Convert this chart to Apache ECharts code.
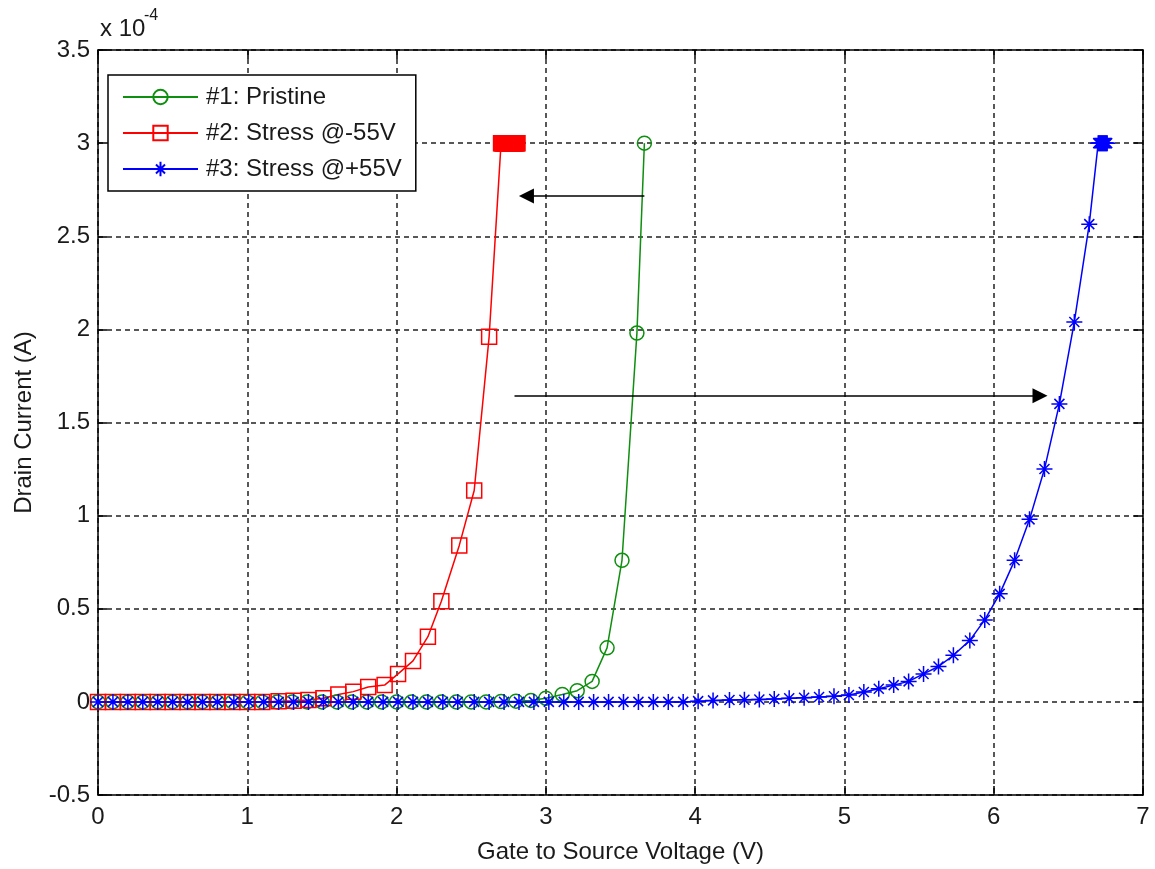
<!DOCTYPE html>
<html>
<head>
<meta charset="utf-8">
<script src="https://cdn.jsdelivr.net/npm/echarts@6/dist/echarts.min.js"></script>
<style>
  html, body { margin: 0; padding: 0; background: #ffffff; }
  #chart { width: 1155px; height: 869px; }
</style>
</head>
<body>
<div id="chart"></div>
<script>
// Transfer characteristics: drain current (in units of 1e-4 A) vs gate-to-source voltage (V)

// #1: Pristine
const pristineVgs = [0.0, 0.1, 0.2, 0.3, 0.4, 0.5, 0.6, 0.7, 0.8, 0.9, 1.0, 1.1, 1.2, 1.3, 1.4, 1.5,
  1.6, 1.7, 1.8, 1.9, 2.0, 2.1, 2.2, 2.3, 2.4, 2.5, 2.6, 2.7, 2.8, 2.9, 3.0,
  3.11, 3.21, 3.31, 3.41, 3.51, 3.61, 3.66];
const pristineId = [0, 0, 0, 0, 0, 0, 0, 0, 0, 0, 0, 0, 0, 0, 0, 0,
  0, 0, 0, 0, 0, 0, 0, 0, 0, 0, 0, 0.002, 0.004, 0.008, 0.02,
  0.04, 0.06, 0.11, 0.29, 0.76, 1.98, 3.0];

// #2: Stress @-55V (sweep ends in a dense run of points held at the 3e-4 A compliance)
const negStressVgs = [0.0, 0.1, 0.2, 0.3, 0.4, 0.5, 0.6, 0.7, 0.8, 0.9, 1.0, 1.1,
  1.21, 1.31, 1.41, 1.51, 1.61, 1.71, 1.81, 1.92, 2.01, 2.11, 2.21, 2.30, 2.42, 2.52, 2.62,
  2.700, 2.705, 2.710, 2.715, 2.720, 2.725, 2.730, 2.735, 2.740, 2.745, 2.750, 2.755,
  2.760, 2.765, 2.770, 2.775, 2.780, 2.785, 2.790, 2.795, 2.800, 2.805, 2.810];
const negStressId = [0, 0, 0, 0, 0, 0, 0, 0, 0, 0, 0, 0,
  0.004, 0.006, 0.01, 0.02, 0.04, 0.055, 0.08, 0.09, 0.15, 0.22, 0.35, 0.54, 0.84, 1.135, 1.96,
  3.0, 3.0, 3.0, 3.0, 3.0, 3.0, 3.0, 3.0, 3.0, 3.0, 3.0, 3.0,
  3.0, 3.0, 3.0, 3.0, 3.0, 3.0, 3.0, 3.0, 3.0, 3.0, 3.0];

// #3: Stress @+55V
const posStressVgs = [0.0, 0.10, 0.20, 0.30, 0.40, 0.50, 0.60, 0.70, 0.80, 0.91,
  1.01, 1.11, 1.21, 1.31, 1.41, 1.51, 1.61, 1.71, 1.81, 1.91,
  2.01, 2.11, 2.21, 2.31, 2.41, 2.52, 2.62, 2.72, 2.82, 2.92,
  3.02, 3.12, 3.22, 3.32, 3.42, 3.52, 3.62, 3.72, 3.82, 3.92,
  4.02, 4.12, 4.23, 4.33, 4.43, 4.53, 4.63, 4.73, 4.83, 4.93,
  5.03, 5.13, 5.23, 5.33, 5.43, 5.53, 5.63, 5.73, 5.84, 5.94,
  6.04, 6.14, 6.24, 6.34, 6.44, 6.54, 6.64,
  6.700, 6.705, 6.710, 6.715, 6.720, 6.725, 6.730, 6.735, 6.740, 6.745, 6.750, 6.755, 6.760];
const posStressId = [0, 0, 0, 0, 0, 0, 0, 0, 0, 0,
  0, 0, 0, 0, 0, 0, 0, 0, 0, 0,
  0, 0, 0, 0, 0, 0, 0, 0, 0, 0,
  0, 0, 0, 0, 0, 0, 0, 0, 0, 0,
  0.004, 0.008, 0.01, 0.011, 0.013, 0.015, 0.019, 0.022, 0.026, 0.03,
  0.037, 0.053, 0.07, 0.09, 0.11, 0.15, 0.19, 0.25, 0.33, 0.44,
  0.58, 0.76, 0.98, 1.25, 1.60, 2.04, 2.565,
  3.0, 3.0, 3.0, 3.0, 3.0, 3.0, 3.0, 3.0, 3.0, 3.0, 3.0, 3.0, 3.0];

// Annotation arrows: [x, y] of the tail and of the arrowhead centre
const shiftLeftArrow = [[3.66, 2.716], [2.87, 2.716]];
const shiftRightArrow = [[2.79, 1.643], [6.31, 1.643]];

// Axis ticks
const xTicks = { min: 0, max: 7, interval: 1 };
const yTicks = { min: -0.5, max: 3.5, interval: 0.5 };

const FONT = '"Liberation Sans", Arial, Helvetica, sans-serif';
const TEXT_COLOR = '#1a1a1a';
const GREEN = '#0f8f0f';
const RED = '#ff0000';
const BLUE = '#0000ff';
const ASTERISK = 'path://M0,-8L0,8M-8,0L8,0M-5,-5L5,5M-5,5L5,-5';

const zip = (xs, ys) => xs.map((x, i) => [x, ys[i]]);

const boxAxisLine = { show: true, onZero: false, lineStyle: { color: '#000', width: 1.5 } };
const insideTick = { show: true, inside: true, length: 9, lineStyle: { color: '#000', width: 1.5 } };
const dashedGrid = { show: true, lineStyle: { color: '#222', width: 1.5, type: [5, 4] } };

function curve(name, xs, ys, color, symbol, size) {
  return {
    name: name,
    type: 'line',
    data: zip(xs, ys),
    symbol: symbol,
    symbolSize: size,
    showAllSymbol: true,
    clip: false,
    lineStyle: { color: color, width: 1.5 },
    itemStyle: { color: 'rgba(0,0,0,0)', borderColor: color, borderWidth: 1.5 },
    emphasis: { disabled: true },
    animation: false
  };
}

function arrow(points) {
  return {
    type: 'line',
    data: [],
    silent: true,
    animation: false,
    markLine: {
      silent: true,
      animation: false,
      symbol: ['none', 'triangle'],
      symbolSize: 15,
      label: { show: false },
      lineStyle: { color: '#000', width: 1.5, type: 'solid' },
      emphasis: { disabled: true },
      data: [[{ coord: points[0] }, { coord: points[1] }]]
    }
  };
}

const chart = echarts.init(document.getElementById('chart'), null, { renderer: 'canvas' });

chart.setOption({
  backgroundColor: '#ffffff',
  animation: false,
  title: [
    { text: 'x 10', left: 100, top: 17, padding: 0,
      textStyle: { fontFamily: FONT, fontSize: 24, fontWeight: 'normal', color: TEXT_COLOR } },
    { text: '-4', left: 144, top: 8, padding: 0,
      textStyle: { fontFamily: FONT, fontSize: 16, fontWeight: 'normal', color: TEXT_COLOR } }
  ],
  grid: { left: 98, right: 12, top: 50, bottom: 72, containLabel: false },
  xAxis: [
    {
      type: 'value', position: 'bottom', min: xTicks.min, max: xTicks.max, interval: xTicks.interval,
      axisLine: boxAxisLine, axisTick: insideTick, splitLine: dashedGrid,
      axisLabel: { fontFamily: FONT, fontSize: 24, color: TEXT_COLOR, margin: 10 },
      name: 'Gate to Source Voltage (V)', nameLocation: 'middle', nameGap: 45,
      nameTextStyle: { fontFamily: FONT, fontSize: 24, color: TEXT_COLOR }
    },
    {
      type: 'value', position: 'top', min: xTicks.min, max: xTicks.max, interval: xTicks.interval,
      axisLine: boxAxisLine, axisTick: insideTick, splitLine: { show: false },
      axisLabel: { show: false }
    }
  ],
  yAxis: [
    {
      type: 'value', position: 'left', min: yTicks.min, max: yTicks.max, interval: yTicks.interval,
      axisLine: boxAxisLine, axisTick: insideTick, splitLine: dashedGrid,
      axisLabel: { fontFamily: FONT, fontSize: 24, color: TEXT_COLOR, margin: 8 },
      name: 'Drain Current (A)', nameLocation: 'middle', nameGap: 62,
      nameTextStyle: { fontFamily: FONT, fontSize: 24, color: TEXT_COLOR }
    },
    {
      type: 'value', position: 'right', min: yTicks.min, max: yTicks.max, interval: yTicks.interval,
      axisLine: boxAxisLine, axisTick: insideTick, splitLine: { show: false },
      axisLabel: { show: false }
    }
  ],
  legend: {
    orient: 'vertical',
    left: 108,
    top: 75,
    padding: [10, 14, 10, 14],
    itemWidth: 75,
    itemHeight: 18,
    itemGap: 12,
    selectedMode: false,
    backgroundColor: '#ffffff',
    borderColor: '#000000',
    borderWidth: 1.5,
    borderRadius: 0,
    textStyle: { fontFamily: FONT, fontSize: 24, color: TEXT_COLOR, padding: [0, 0, 0, 3] },
    data: ['#1: Pristine', '#2: Stress @-55V', '#3: Stress @+55V']
  },
  series: [
    curve('#1: Pristine', pristineVgs, pristineId, GREEN, 'circle', 14),
    curve('#2: Stress @-55V', negStressVgs, negStressId, RED, 'rect', 15),
    curve('#3: Stress @+55V', posStressVgs, posStressId, BLUE, ASTERISK, 16),
    arrow(shiftLeftArrow),
    arrow(shiftRightArrow)
  ]
});
</script>
</body>
</html>
